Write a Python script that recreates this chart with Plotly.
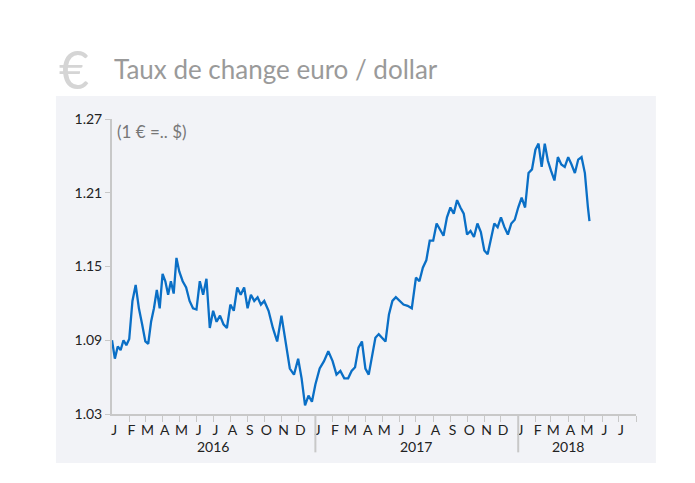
import plotly.graph_objects as go
import pandas as pd

months = ["2016-01","2016-02","2016-03","2016-04","2016-05","2016-06","2016-07","2016-08","2016-09","2016-10","2016-11","2016-12",
          "2017-01","2017-02","2017-03","2017-04","2017-05","2017-06","2017-07","2017-08","2017-09","2017-10","2017-11","2017-12",
          "2018-01","2018-02","2018-03","2018-04","2018-05"]
rates = [
 [1.09,1.075,1.085,1.082,1.09,1.086],
 [1.091,1.122,1.135,1.116,1.103],
 [1.089,1.087,1.105,1.116,1.131,1.116],
 [1.144,1.138,1.127,1.138,1.128,1.157],
 [1.146,1.138,1.133,1.122,1.116],
 [1.115,1.138,1.127,1.14,1.10],
 [1.114,1.105,1.11,1.103,1.10],
 [1.119,1.114,1.133,1.127,1.133],
 [1.116,1.127,1.122,1.125,1.119],
 [1.122,1.114,1.10,1.089],
 [1.11,1.089,1.067,1.062],
 [1.075,1.059,1.037,1.045,1.04],
 [1.054,1.067,1.073,1.081],
 [1.073,1.062,1.065,1.059],
 [1.059,1.065,1.068,1.084,1.089],
 [1.067,1.062,1.078,1.092,1.095],
 [1.092,1.089,1.111,1.122,1.125],
 [1.122,1.119,1.118,1.116],
 [1.141,1.138,1.149,1.155,1.171],
 [1.171,1.185,1.18,1.175,1.19],
 [1.198,1.193,1.204,1.198,1.193],
 [1.176,1.179,1.174,1.185,1.178],
 [1.163,1.16,1.174,1.185,1.182],
 [1.19,1.182,1.176,1.185,1.188],
 [1.198,1.206,1.198,1.226,1.229],
 [1.245,1.25,1.231,1.25,1.236],
 [1.228,1.22,1.239,1.233,1.231],
 [1.239,1.233,1.226,1.237,1.239],
 [1.226,1.208,1.198,1.187],
]
month_letters = ["J","F","M","A","M","J","J","A","S","O","N","D"]
years = ["2016","2017","2018"]

xs, ys = [], []
for m, vals in zip(months, rates):
    start = pd.Timestamp(m + "-01")
    days = (start + pd.offsets.MonthBegin(1) - start).days
    if m == months[-1]:
        days = 11
    for i, v in enumerate(vals):
        xs.append(start + pd.Timedelta(days=days * i / len(vals)))
        ys.append(v)

fig = go.Figure(go.Scatter(x=xs, y=ys, mode="lines", line=dict(color="#0a6fc6", width=2.3), hoverinfo="skip"))

mstarts = pd.date_range("2016-01-01", "2018-07-01", freq="MS")
mids = [d + pd.Timedelta(days=4) for d in mstarts]
fig.update_layout(
    width=695, height=483, paper_bgcolor="white", plot_bgcolor="rgba(0,0,0,0)",
    margin=dict(l=104, r=67, t=111, b=77), showlegend=False,
    font=dict(family="Lato", color="#222"),
    xaxis=dict(range=[pd.Timestamp("2016-01-01"), pd.Timestamp("2018-08-01")],
               tickvals=mids, ticktext=[month_letters[d.month - 1] for d in mstarts],
               ticks="", showgrid=False, zeroline=False, showline=True, linecolor="#c8c8c8", linewidth=2,
               tickfont=dict(size=14), ticklabelstandoff=2,
               minor=dict(tickvals=list(pd.date_range("2016-02-01", "2018-08-01", freq="MS")),
                          ticks="outside", ticklen=6, tickcolor="#c8c8c8", showgrid=False)),
    yaxis=dict(range=[1.03, 1.27], tickvals=[1.03, 1.09, 1.15, 1.21, 1.27],
               tickformat=".2f", ticks="outside", ticklen=5, tickcolor="#c8c8c8",
               showgrid=False, zeroline=False, showline=True, linecolor="#c8c8c8", linewidth=2,
               tickfont=dict(size=14)),
)
fig.add_shape(type="rect", xref="paper", yref="paper", x0=-0.107, x1=1.038, y0=-0.166, y1=1.078,
              fillcolor="#f2f3f7", line_width=0, layer="below")
for y in ["2017-01-01", "2018-01-01"]:
    fig.add_shape(type="line", xref="x", yref="paper", x0=y, x1=y, y0=0, y1=-0.13,
                  line=dict(color="#c8c8c8", width=2))
for yr, c in zip(years, ["2016-07-01", "2017-07-01", "2018-04-01"]):
    fig.add_annotation(x=c, y=-0.11, xref="x", yref="paper", text=yr, showarrow=False,
                       font=dict(size=14, color="#222"), yanchor="middle")
fig.add_annotation(x=0.005, y=1.0, xref="paper", yref="paper", text="(1 € =.. $)", showarrow=False,
                   xanchor="left", yanchor="top", font=dict(size=17, color="#777"))
fig.add_annotation(x=-0.105, y=1.17, xref="paper", yref="paper", text="€", showarrow=False,
                   xanchor="left", yanchor="middle", font=dict(size=52, color="#d5d5d5"))
fig.add_annotation(x=0.0, y=1.17, xref="paper", yref="paper", text="Taux de change euro / dollar",
                   showarrow=False, xanchor="left", yanchor="middle", font=dict(size=26, color="#9a9a9a"))
fig.write_html("out.html")
